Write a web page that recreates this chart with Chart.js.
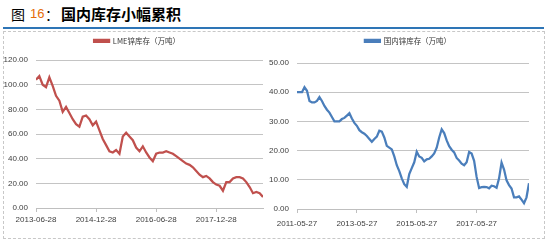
<!DOCTYPE html>
<html><head><meta charset="utf-8">
<script src="https://cdn.jsdelivr.net/npm/chart.js@4/dist/chart.umd.min.js"></script>
<style>
html,body{margin:0;padding:0;background:#fff;}
#wrap{position:relative;width:552px;height:242px;overflow:hidden;background:#fff;}
.t{position:absolute;top:3px;font-family:"Noto Sans CJK SC",sans-serif;line-height:22px;color:#000;white-space:nowrap;}
#rule{position:absolute;left:3px;top:27px;width:541px;height:2px;background:#2e75b6;}
#box{position:absolute;left:3px;top:31px;width:540px;height:206px;border:1px dashed #c8c8c8;}
canvas{position:absolute;}
</style></head><body>
<div id="wrap">
  <span class="t" style="left:11px;font-size:14px;">图</span>
  <span class="t" style="left:30px;font-size:13px;color:#e46c0a;font-family:'Liberation Sans',sans-serif;">16</span>
  <span class="t" style="left:45px;font-size:14px;">：</span>
  <span class="t" style="left:61px;font-size:15px;font-weight:bold;">国内库存小幅累积</span>
  <div id="rule"></div>
  <div id="box"></div>
  <div style="position:absolute;left:0;top:30px;width:266px;height:208px;"><canvas id="c1"></canvas></div>
  <div style="position:absolute;left:266px;top:30px;width:278px;height:208px;"><canvas id="c2"></canvas></div>
</div>
<script>
// LME zinc stocks, monthly from 2013-06 (index 0) to 2019-02
const lmeName = 'LME锌库存（万吨）';
const lmeTickLabels = ['2013-06-28','2014-12-28','2016-06-28','2017-12-28'];
const lmeTickMonths = [0,18,36,54];
const lmeValues = [104,107,100,98,106,99,91,87,78,82,77,72,68,66,74,75,72,67,70,63,56,51,46,45,47,44,58,61,58,55,49,46,50,45,41,38,44,45,45,46,45,44,42,40,38,36,35,33,30,27,25,26,24,21,19,18,14,21,21,24,25,25,24,21,17,12,13,12,9];
const lmeYTicks = [0,20,40,60,80,100,120];

// Domestic zinc stocks, monthly from 2011-05 (index 0) to 2019-02
const cnName = '国内锌库存（万吨）';
const cnTickLabels = ['2011-05-27','2013-05-27','2015-05-27','2017-05-27'];
const cnTickMonths = [0,24,48,72];
const cnValues = [40,40,40,41.7,40.5,37,36.5,36.5,37,38.3,37,35.3,34,33,31.5,30,30,30,30.8,31.2,32,32.8,31,29.5,28.5,27,26.3,25.8,25,24,23,24,24.8,26.8,26.5,24.5,21.6,21,20.4,18,15,13,10.5,8.5,7.6,12,14,16,19.6,18,17.5,16.3,17,17.2,18,19,21,24.5,27.3,26,23.5,21.5,20.3,19.4,17.5,16.6,15.5,15,16,19.5,19,16.5,11,7.2,7.5,7.6,7.5,7.1,8,7.8,7.3,10.5,15.9,13.5,9.8,8.2,7,4,4,4.3,3.2,2,4,8.8];
const cnYTicks = [0,10,20,30,40,50];

const tickFont = {family:"'Liberation Sans Narrow','Liberation Sans',sans-serif", size:8};
const legFont = {family:"'Liberation Sans Narrow','Noto Sans CJK SC',sans-serif", size:7.5};

function makeChart(id, name, values, color, tickMonths, tickLabels, yTicks, cfg){
  const pts = values.map((v,i)=>({x:i,y:v}));
  const fixer = {
    id:'fixer'+id,
    beforeLayout(chart){
      const lg = chart.legend;
      if(lg && !lg._patched){
        const orig = lg.fit;
        lg.fit = function(){ orig.call(this); this.height = cfg.legendH; };
        lg._patched = true;
      }
    },
    afterLayout(chart){
      const lg = chart.legend;
      if(lg){ lg.left += cfg.legShift; lg.right += cfg.legShift; lg.top += cfg.legTop; lg.bottom += cfg.legTop; }
    }
  };
  return new Chart(document.getElementById(id), {
    type:'line',
    data:{datasets:[{label:name, data:pts, borderColor:color, backgroundColor:color, borderWidth:2.25, pointRadius:0, tension:0, fill:false}]},
    options:{
      responsive:true, maintainAspectRatio:false, animation:false,
      layout:{padding:{left:0,right:cfg.rightPad,top:0,bottom:0}},
      plugins:{
        legend:{display:true, position:'top', align:'center',
          labels:{boxWidth:15, boxHeight:2, padding:6, color:'#333333', font:legFont}},
        tooltip:{enabled:false}
      },
      scales:{
        x:{type:'linear', min:0, max:values.length-1,
          afterBuildTicks(s){ s.ticks = tickMonths.map(v=>({value:v})); },
          afterFit(s){ s.height = cfg.xH; },
          ticks:{autoSkip:false, maxRotation:0, padding:cfg.xPad, color:'#404040', font:tickFont,
            callback(v){ const k = tickMonths.indexOf(v); return k>=0 ? tickLabels[k] : null; }},
          grid:{drawOnChartArea:false, drawTicks:true, tickLength:4, color:'#bfbfbf'},
          border:{display:true, color:'#bfbfbf', width:1}
        },
        y:{min:yTicks[0], max:yTicks[yTicks.length-1],
          afterBuildTicks(s){ s.ticks = yTicks.map(v=>({value:v})); },
          afterFit(s){ s.width = cfg.yW; },
          ticks:{padding:8, color:'#404040', font:tickFont, callback(v){ return Number(v).toFixed(2); }},
          grid:{drawTicks:false, color:'#c4c4c4', lineWidth:1},
          border:{display:false}
        }
      }
    },
    plugins:[fixer]
  });
}

makeChart('c1', lmeName, lmeValues, '#c0504d', lmeTickMonths, lmeTickLabels, lmeYTicks,
  {legendH:30, legShift:5.5, legTop:1, rightPad:3, xH:30, xPad:3, yW:36});
makeChart('c2', cnName, cnValues, '#4a7ebb', cnTickMonths, cnTickLabels, cnYTicks,
  {legendH:33, legShift:10.5, legTop:1, rightPad:15, xH:29, xPad:6, yW:31});
</script>
</body></html>
